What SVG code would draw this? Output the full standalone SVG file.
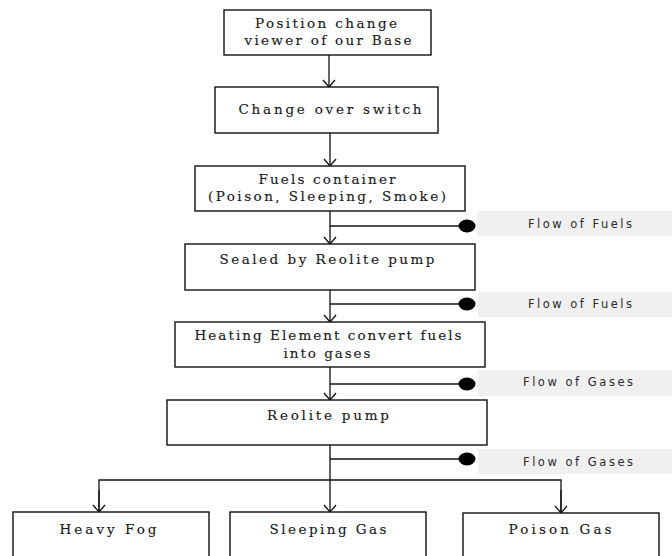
<svg xmlns="http://www.w3.org/2000/svg" width="672" height="556" viewBox="0 0 672 556">
  <style>
    .box { fill: #fff; stroke: #111; stroke-width: 1.4; }
    .t { font-family: "DejaVu Serif", "Liberation Serif", serif; font-size: 13.5px; fill: #1a1a1a; stroke: #1a1a1a; stroke-width: 0.15; text-anchor: middle; }
    .lbl { fill: #f0f0f0; }
    .lt { font-family: "DejaVu Sans", "Liberation Sans", sans-serif; font-size: 11.5px; fill: #2a2a2a; text-anchor: middle; }
    .ln { fill: none; stroke: #111; stroke-width: 1.3; }
    .dot { fill: #000; }
  </style>
  <defs>
    <marker id="arr" markerWidth="14" markerHeight="14" refX="12" refY="7" orient="auto" markerUnits="userSpaceOnUse">
      <path d="M5,1 L12,7 L5,13" fill="none" stroke="#111" stroke-width="1.3"/>
    </marker>
  </defs>

  <g id="connectors">
    <line class="ln" x1="329" y1="55" x2="329" y2="87" marker-end="url(#arr)"/>
    <line class="ln" x1="330" y1="133" x2="330" y2="166" marker-end="url(#arr)"/>
    <line class="ln" x1="330" y1="211" x2="330" y2="244" marker-end="url(#arr)"/>
    <line class="ln" x1="330" y1="290" x2="330" y2="322" marker-end="url(#arr)"/>
    <line class="ln" x1="330" y1="367" x2="330" y2="400" marker-end="url(#arr)"/>
    <line class="ln" x1="330" y1="445" x2="330" y2="512" marker-end="url(#arr)"/>
    <polyline class="ln" points="99,512 99,480 561,480 561,513"/>
    <line class="ln" x1="99" y1="490" x2="99" y2="512" marker-end="url(#arr)"/>
    <line class="ln" x1="561" y1="490" x2="561" y2="513" marker-end="url(#arr)"/>
    <line class="ln" x1="330" y1="226" x2="467" y2="226"/>
    <line class="ln" x1="330" y1="304" x2="467" y2="304"/>
    <line class="ln" x1="330" y1="384" x2="467" y2="384"/>
    <line class="ln" x1="330" y1="459" x2="467" y2="459"/>
    <ellipse class="dot" cx="467" cy="226" rx="8.5" ry="6.5"/>
    <ellipse class="dot" cx="467" cy="304" rx="8.5" ry="6.5"/>
    <ellipse class="dot" cx="467" cy="384" rx="8.5" ry="6.5"/>
    <ellipse class="dot" cx="467" cy="459" rx="8.5" ry="6.5"/>
  </g>

  <g id="label1">
    <rect class="lbl" x="477" y="211" width="195" height="25"/>
    <text class="lt" x="580" y="228" textLength="104" lengthAdjust="spacing">Flow of Fuels</text>
  </g>
  <g id="label2">
    <rect class="lbl" x="478" y="292" width="194" height="25"/>
    <text class="lt" x="580" y="308" textLength="104" lengthAdjust="spacing">Flow of Fuels</text>
  </g>
  <g id="label3">
    <rect class="lbl" x="478" y="370" width="194" height="26"/>
    <text class="lt" x="578" y="386" textLength="110" lengthAdjust="spacing">Flow of Gases</text>
  </g>
  <g id="label4">
    <rect class="lbl" x="478" y="449" width="194" height="25"/>
    <text class="lt" x="578" y="466" textLength="110" lengthAdjust="spacing">Flow of Gases</text>
  </g>

  <g id="n1">
    <rect class="box" x="224" y="10" width="207" height="45"/>
    <text class="t" x="326" y="28" textLength="142" lengthAdjust="spacing">Position change</text>
    <text class="t" x="328" y="45" textLength="167" lengthAdjust="spacing">viewer of our Base</text>
  </g>
  <g id="n2">
    <rect class="box" x="215" y="87" width="223" height="46"/>
    <text class="t" x="330" y="114" textLength="183" lengthAdjust="spacing">Change over switch</text>
  </g>
  <g id="n3">
    <rect class="box" x="195" y="166" width="270" height="45"/>
    <text class="t" x="327" y="184" textLength="137" lengthAdjust="spacing">Fuels container</text>
    <text class="t" x="327" y="201" textLength="238" lengthAdjust="spacing">(Poison, Sleeping, Smoke)</text>
  </g>
  <g id="n4">
    <rect class="box" x="185" y="244" width="290" height="46"/>
    <text class="t" x="327" y="264" textLength="215" lengthAdjust="spacing">Sealed by Reolite pump</text>
  </g>
  <g id="n5">
    <rect class="box" x="175" y="322" width="310" height="45"/>
    <text class="t" x="328" y="340" textLength="267" lengthAdjust="spacing">Heating Element convert fuels</text>
    <text class="t" x="327" y="358" textLength="87" lengthAdjust="spacing">into gases</text>
  </g>
  <g id="n6">
    <rect class="box" x="167" y="400" width="320" height="45"/>
    <text class="t" x="328" y="420" textLength="122" lengthAdjust="spacing">Reolite pump</text>
  </g>
  <g id="n7">
    <rect class="box" x="13" y="512" width="196" height="60"/>
    <text class="t" x="108" y="534" textLength="97" lengthAdjust="spacing">Heavy Fog</text>
  </g>
  <g id="n8">
    <rect class="box" x="230" y="512" width="196" height="60"/>
    <text class="t" x="328" y="534" textLength="117" lengthAdjust="spacing">Sleeping Gas</text>
  </g>
  <g id="n9">
    <rect class="box" x="463" y="513" width="196" height="60"/>
    <text class="t" x="560" y="534" textLength="103" lengthAdjust="spacing">Poison Gas</text>
  </g>
</svg>
